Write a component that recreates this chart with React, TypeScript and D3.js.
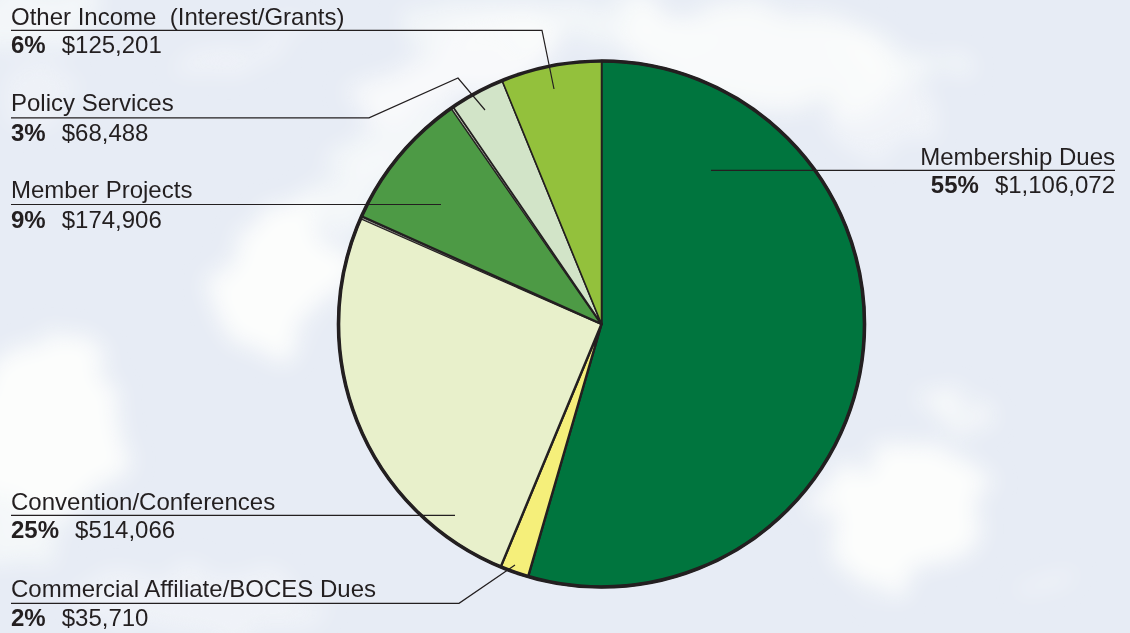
import React from "react";
import * as d3 from "d3";

const W = 1130, H = 633;
const categories = ["Membership Dues", "Commercial Affiliate/BOCES Dues", "Convention/Conferences", "", "Member Projects", "", "Policy Services", "Other Income  (Interest/Grants)"];
const amounts = [1106072, 35710, 514066, 2500, 174906, 2500, 68488, 125201];
const colors = ["#00753e", "#f5ef7a", "#e8f0cb", "#f4f6ea", "#4d9a45", "#dfe8d2", "#d2e4c8", "#93c13c"];
const percents = ["55%", "2%", "25%", "", "9%", "", "3%", "6%"];
const dollars = ["$1,106,072", "$35,710", "$514,066", "", "$174,906", "", "$68,488", "$125,201"];
const dividerWidths = [2.4, 2.4, 2.4, 0.6, 2.4, 0.6, 1.8, 1.5];

const cx = 601.5, cy = 324, R = 263;
const ink = "#231f20";
const fontFamily = "'Liberation Sans', Arial, sans-serif";

const clouds: [number, number, number, number, number, number][] = [
  [450, 70, 110, 30, -20, 0.8],
  [560, 25, 150, 22, 0, 0.6],
  [760, 60, 140, 48, 8, 0.85],
  [895, 60, 65, 20, 15, 0.7],
  [400, 145, 75, 26, -15, 0.65],
  [280, 275, 62, 75, 0, 1],
  [335, 205, 55, 20, -30, 0.65],
  [48, 425, 78, 92, 0, 1],
  [20, 520, 50, 45, 0, 0.65],
  [200, 600, 130, 25, 0, 0.4],
  [905, 515, 82, 72, -20, 1],
  [950, 405, 30, 12, 25, 0.85],
  [1040, 578, 30, 7, -25, 0.75],
  [30, 15, 75, 28, 0, 0.6],
  [235, 55, 60, 15, -15, 0.4],
  [880, 115, 45, 40, 0, 0.45],
  [45, 90, 40, 25, 0, 0.35],
];

const labels = [
  { i: 0, anchor: "end" as const, tx: 1115, lineY: 170.3, gap: 5.5, x1: 711, x2: 1115, extra: [] as [number, number][] },
  { i: 1, anchor: "start" as const, tx: 11, lineY: 603.3, gap: 6.5, x1: 11, x2: 459, extra: [[459, 603.3], [515, 565]] as [number, number][] },
  { i: 2, anchor: "start" as const, tx: 11, lineY: 515.3, gap: 5.5, x1: 11, x2: 455, extra: [] as [number, number][] },
  { i: 4, anchor: "start" as const, tx: 11, lineY: 204.5, gap: 6.5, x1: 11, x2: 441, extra: [] as [number, number][] },
  { i: 6, anchor: "start" as const, tx: 11, lineY: 117.8, gap: 7, x1: 11, x2: 369, extra: [[369, 117.8], [458, 78], [485, 110]] as [number, number][] },
  { i: 7, anchor: "start" as const, tx: 11, lineY: 30.3, gap: 5.5, x1: 11, x2: 542, extra: [[542, 30.3], [554, 89]] as [number, number][] },
];

export default function App() {
  const pie = d3.pie<number>().sort(null).startAngle(0).endAngle(2 * Math.PI);
  const arcs = pie(amounts);
  const arc = d3.arc<d3.PieArcDatum<number>>().innerRadius(0).outerRadius(R);
  const line = d3.line();
  return (
    <svg width={W} height={H} viewBox={`0 0 ${W} ${H}`} style={{ position: "absolute", left: 0, top: 0, display: "block" }} fontFamily={fontFamily}>
      <defs>
        <filter id="cloud" x="-20%" y="-20%" width="140%" height="140%">
          <feTurbulence type="fractalNoise" baseFrequency="0.018" numOctaves={4} seed={7} result="n" />
          <feDisplacementMap in="SourceGraphic" in2="n" scale={70} xChannelSelector="R" yChannelSelector="G" />
          <feGaussianBlur stdDeviation="11" />
        </filter>
      </defs>
      <rect width={W} height={H} fill="#e7ecf5" />
      <g filter="url(#cloud)">
        {clouds.map(([x, y, rx, ry, a, o], i) => (
          <ellipse key={i} cx={x} cy={y} rx={rx} ry={ry} fill="#fcfdfc" opacity={o} transform={`rotate(${a} ${x} ${y})`} />
        ))}
      </g>
      <g transform={`translate(${cx},${cy})`}>
        {arcs.map((a, i) => (
          <path key={i} d={arc(a) ?? ""} fill={colors[i]} stroke={ink} strokeWidth={dividerWidths[i]} strokeLinejoin="round" />
        ))}
        <circle r={R} fill="none" stroke={ink} strokeWidth={3.6} />
      </g>
      {labels.map((l) => (
        <g key={l.i}>
          <path d={line([[l.x1, l.lineY], [l.x2, l.lineY], ...l.extra]) ?? ""} fill="none" stroke={ink} strokeWidth={1.2} />
          <text x={l.tx} y={l.lineY - l.gap} textAnchor={l.anchor} fontSize={24} fill={ink} style={{ whiteSpace: "pre" }}>
            {categories[l.i]}
          </text>
          <text x={l.tx} y={l.lineY + 23} textAnchor={l.anchor} fontSize={24} fill={ink}>
            <tspan fontWeight="bold">{percents[l.i]}</tspan>
            <tspan dx={16}>{dollars[l.i]}</tspan>
          </text>
        </g>
      ))}
    </svg>
  );
}
